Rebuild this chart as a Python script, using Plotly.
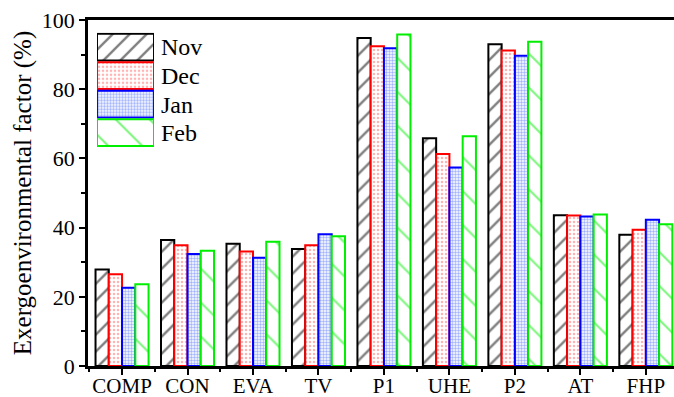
import plotly.graph_objects as go

categories = ["COMP", "CON", "EVA", "TV", "P1", "UHE", "P2", "AT", "FHP"]
months = ["Nov", "Dec", "Jan", "Feb"]
nov = [27.9, 36.4, 35.3, 33.8, 94.8, 65.8, 93.0, 43.6, 37.9]
dec = [26.5, 34.9, 33.1, 34.9, 92.4, 61.3, 91.2, 43.5, 39.4]
jan = [22.6, 32.4, 31.3, 38.1, 91.8, 57.4, 89.7, 43.2, 42.3]
feb = [23.6, 33.3, 35.9, 37.5, 95.8, 66.4, 93.7, 43.8, 41.0]
series = [nov, dec, jan, feb]

line_colors = ["#000000", "#ff0000", "#0000ff", "#00ee00"]
patterns = [
    dict(shape="/", fgcolor="#000000", bgcolor="white", size=12, solidity=0.2),
    dict(shape=".", fgcolor="#ff6666", bgcolor="white", size=4, solidity=0.3),
    dict(shape=".", fgcolor="#4466ff", bgcolor="white", size=3, solidity=0.5),
    dict(shape="\\", fgcolor="#00ee00", bgcolor="white", size=24, solidity=0.09),
]

FONT = "Liberation Serif, Times New Roman, serif"
x_idx = list(range(len(categories)))

fig = go.Figure()
for name, vals, lc, pat in zip(months, series, line_colors, patterns):
    fig.add_trace(go.Bar(
        x=x_idx, y=vals, name=name,
        marker=dict(color="white", line=dict(color=lc, width=2), pattern=pat),
        showlegend=False,
    ))
    # inset legend swatch
    fig.add_trace(go.Bar(
        x=[1], y=[name], orientation="h", xaxis="x2", yaxis="y2", width=0.94,
        marker=dict(color="white", line=dict(color=lc, width=2), pattern=pat),
        showlegend=False, hoverinfo="skip",
    ))

fig.update_layout(
    width=674, height=397, autosize=False,
    margin=dict(l=88, r=0, t=20, b=31),
    paper_bgcolor="white", plot_bgcolor="white",
    barmode="group", bargap=0.19, bargroupgap=0,
    font=dict(family=FONT, color="black", size=20),
    xaxis=dict(
        range=[-0.52, 8.43], tickmode="array", tickvals=x_idx, ticktext=categories,
        showline=True, linecolor="black", linewidth=2.5, mirror=True,
        ticks="outside", ticklen=6, tickwidth=2, tickcolor="black",
        minor=dict(tickmode="linear", tick0=0.5, dtick=1, ticks="outside", ticklen=3, tickwidth=2, tickcolor="black"),
        showgrid=False, zeroline=False, automargin=False,
        tickfont=dict(family=FONT, size=21), ticklabelstandoff=-7,
    ),
    yaxis=dict(
        range=[0, 100], tickmode="linear", tick0=0, dtick=20,
        showline=True, linecolor="black", linewidth=2.5, mirror=False,
        ticks="outside", ticklen=6, tickwidth=2, tickcolor="black",
        minor=dict(tickmode="linear", tick0=10, dtick=20, ticks="outside", ticklen=4, tickwidth=2, tickcolor="black"),
        showgrid=False, zeroline=False, automargin=False,
        tickfont=dict(family=FONT, size=22),
        title=dict(text="Exergoenvironmental factor (%)", font=dict(family=FONT, size=25), standoff=4),
    ),
    xaxis2=dict(domain=[0.0154, 0.1126], anchor="y2", range=[0, 1], visible=False, fixedrange=True),
    yaxis2=dict(
        domain=[0.633, 0.963], anchor="x2", autorange="reversed", side="right",
        tickmode="array", tickvals=months, ticktext=months, automargin=False,
        showline=False, showgrid=False, zeroline=False, ticks="",
        tickfont=dict(family=FONT, size=24), ticklabelstandoff=6,
    ),
)

fig.write_html("out.html", config={"displayModeBar": False},
               post_script="document.body.style.margin='0';")
